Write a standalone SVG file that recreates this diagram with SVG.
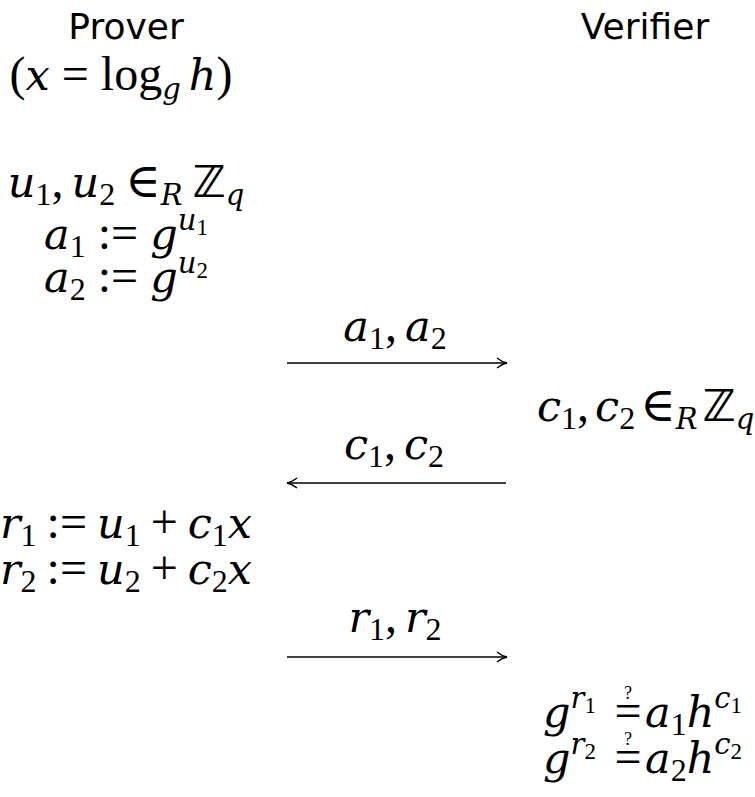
<svg xmlns="http://www.w3.org/2000/svg" width="755" height="797" viewBox="0 0 755 797">
<defs>
<style>
.s{font-family:"DejaVu Sans","Liberation Sans",sans-serif;font-size:36px;fill:#000}
.m{font-family:"Liberation Serif","DejaVu Serif",serif;font-size:48px;fill:#000}
.i{font-family:"DejaVu Serif",serif;font-style:italic;font-size:43px}
.sub{font-size:32px}
.i.sub{font-size:29px}
.ss{font-size:23px}
.z{font-family:"DejaVu Sans",sans-serif;font-weight:bold;font-size:44px}
.q{font-size:18px}
.c{stroke:#000;stroke-width:1.6;fill:none}
</style>
<marker id="ah" viewBox="0 0 12 12" refX="11" refY="6" markerWidth="12" markerHeight="12" markerUnits="userSpaceOnUse" orient="auto-start-reverse">
<path d="M1,1 Q6,5 11,6 Q6,7 1,11" fill="none" stroke="#000" stroke-width="1.4"/>
</marker>
</defs>
<g id="prover-title"><text class="s" x="126" y="39" text-anchor="middle">Prover</text></g>
<g id="verifier-title"><text class="s" x="645" y="39" text-anchor="middle">Verifier</text></g>
<g id="prover-secret"><text class="m" x="121" y="90" text-anchor="middle">(<tspan class="i">x</tspan><tspan dx="12">=</tspan><tspan dx="12">log</tspan><tspan class="i sub" dy="9">g</tspan><tspan class="i" dx="8" dy="-9">h</tspan>)</text></g>
<g id="prover-commit">
<text class="m" x="126" y="197" text-anchor="middle"><tspan class="i">u</tspan><tspan class="sub" dy="8">1</tspan><tspan dy="-8">,</tspan><tspan class="i" dx="8">u</tspan><tspan class="sub" dy="8">2</tspan><tspan dx="10" dy="-8">∈</tspan><tspan class="i sub" dy="8">R</tspan><tspan class="z" dx="10" dy="-8">ℤ</tspan><tspan class="i sub" dy="8">q</tspan></text>
<text class="m" x="126" y="249" text-anchor="middle"><tspan class="i">a</tspan><tspan class="sub" dy="8">1</tspan><tspan dx="12" dy="-8">:=</tspan><tspan class="i" dx="12">g</tspan><tspan class="i sub" dy="-19">u</tspan><tspan class="ss" dy="5">1</tspan></text>
<text class="m" x="126" y="292" text-anchor="middle"><tspan class="i">a</tspan><tspan class="sub" dy="8">2</tspan><tspan dx="12" dy="-8">:=</tspan><tspan class="i" dx="12">g</tspan><tspan class="i sub" dy="-19">u</tspan><tspan class="ss" dy="5">2</tspan></text>
</g>
<g id="verifier-challenge"><text class="m" x="537" y="421"><tspan class="i">c</tspan><tspan class="sub" dy="8">1</tspan><tspan dy="-8">,</tspan><tspan class="i" dx="6">c</tspan><tspan class="sub" dy="8">2</tspan><tspan dx="5" dy="-8">∈</tspan><tspan class="i sub" dy="8">R</tspan><tspan class="z" dx="5" dy="-8">ℤ</tspan><tspan class="i sub" dy="8">q</tspan></text></g>
<g id="prover-response">
<text class="m" x="0" y="538"><tspan class="i">r</tspan><tspan class="sub" dy="8">1</tspan><tspan dx="10" dy="-8">:=</tspan><tspan class="i" dx="10">u</tspan><tspan class="sub" dy="8">1</tspan><tspan dx="10" dy="-8">+</tspan><tspan class="i" dx="10">c</tspan><tspan class="sub" dy="8">1</tspan><tspan class="i" dy="-8">x</tspan></text>
<text class="m" x="0" y="584"><tspan class="i">r</tspan><tspan class="sub" dy="8">2</tspan><tspan dx="10" dy="-8">:=</tspan><tspan class="i" dx="10">u</tspan><tspan class="sub" dy="8">2</tspan><tspan dx="10" dy="-8">+</tspan><tspan class="i" dx="10">c</tspan><tspan class="sub" dy="8">2</tspan><tspan class="i" dy="-8">x</tspan></text>
</g>
<g id="verifier-check">
<text class="m" x="543" y="727"><tspan class="i">g</tspan><tspan class="i sub" dy="-19">r</tspan><tspan class="ss" dy="5">1</tspan></text>
<text class="m" x="628" y="727" text-anchor="middle">=</text>
<text class="m q" x="628" y="699" text-anchor="middle">?</text>
<text class="m" x="645" y="727"><tspan class="i">a</tspan><tspan class="sub" dy="8">1</tspan><tspan class="i" dy="-8">h</tspan><tspan class="i sub" dy="-19">c</tspan><tspan class="ss" dy="5">1</tspan></text>
<text class="m" x="543" y="773"><tspan class="i">g</tspan><tspan class="i sub" dy="-19">r</tspan><tspan class="ss" dy="5">2</tspan></text>
<text class="m" x="628" y="773" text-anchor="middle">=</text>
<text class="m q" x="628" y="745" text-anchor="middle">?</text>
<text class="m" x="645" y="773"><tspan class="i">a</tspan><tspan class="sub" dy="8">2</tspan><tspan class="i" dy="-8">h</tspan><tspan class="i sub" dy="-19">c</tspan><tspan class="ss" dy="5">2</tspan></text>
</g>
<g id="connectors">
<line class="c" x1="287" y1="363" x2="507" y2="363" marker-end="url(#ah)"/>
<line class="c" x1="287" y1="483" x2="506" y2="483" marker-start="url(#ah)"/>
<line class="c" x1="287" y1="657" x2="507" y2="657" marker-end="url(#ah)"/>
<text class="m" x="395" y="341" text-anchor="middle"><tspan class="i">a</tspan><tspan class="sub" dy="8">1</tspan><tspan dy="-8">,</tspan><tspan class="i" dx="8">a</tspan><tspan class="sub" dy="8">2</tspan></text>
<text class="m" x="394" y="459" text-anchor="middle"><tspan class="i">c</tspan><tspan class="sub" dy="8">1</tspan><tspan dy="-8">,</tspan><tspan class="i" dx="8">c</tspan><tspan class="sub" dy="8">2</tspan></text>
<text class="m" x="395" y="632" text-anchor="middle"><tspan class="i">r</tspan><tspan class="sub" dy="8">1</tspan><tspan dy="-8">,</tspan><tspan class="i" dx="8">r</tspan><tspan class="sub" dy="8">2</tspan></text>
</g>
</svg>
